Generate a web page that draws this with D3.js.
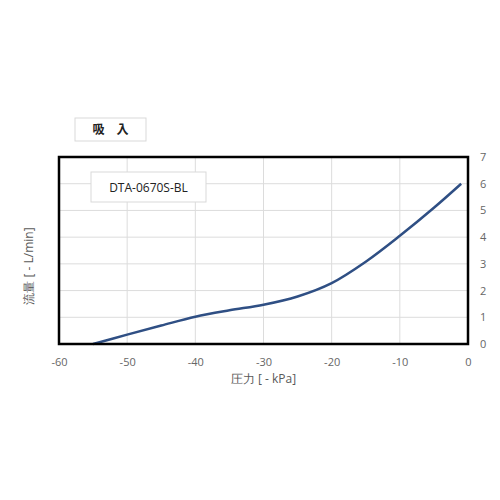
<!DOCTYPE html>
<html>
<head>
<meta charset="utf-8">
<script src="https://cdn.jsdelivr.net/npm/d3@7"></script>
<style>
  body { margin: 0; background: #fff; }
  svg text { font-family: "Open Sans", "Liberation Sans", sans-serif; }
</style>
</head>
<body>
<div id="graf"></div>
<script>
// Datos
const presion = [-55, -50, -45, -40, -35, -30, -25, -20, -15, -10, -5, -1]
const caudal = [0, 0.35, 0.69, 1.02, 1.26, 1.47, 1.78, 2.28, 3.08, 4.05, 5.1, 6.0]
const ticksX = [-60, -50, -40, -30, -20, -10, 0]
const ticksY = [0, 1, 2, 3, 4, 5, 6, 7]
const titulo = "吸　入"
const serie = "DTA-0670S-BL"
const etiquetaX = "圧力 [ - kPa]"
const etiquetaY = "流量 [ - L/min]"

const draw = () => {
  const svg = d3.select("#graf")
    .append("svg")
    .attr("width", 500)
    .attr("height", 500)

  const margen = { left: 59, right: 468, top: 157, bottom: 344 }

  const x = d3.scaleLinear().domain([-60, 0]).range([margen.left, margen.right])
  const y = d3.scaleLinear().domain([0, 7]).range([margen.bottom, margen.top])

  // Rejilla
  svg.append("g")
    .selectAll("line")
    .data(ticksY.slice(1, -1))
    .join("line")
    .attr("x1", margen.left)
    .attr("x2", margen.right)
    .attr("y1", (d) => y(d))
    .attr("y2", (d) => y(d))
    .attr("stroke", "#dcdcdc")

  svg.append("g")
    .selectAll("line")
    .data(ticksX.slice(1, -1))
    .join("line")
    .attr("x1", (d) => x(d))
    .attr("x2", (d) => x(d))
    .attr("y1", margen.top)
    .attr("y2", margen.bottom)
    .attr("stroke", "#dcdcdc")

  // Curva
  const linea = d3.line()
    .x((d, i) => x(presion[i]))
    .y((d) => y(d))
    .curve(d3.curveCatmullRom.alpha(0.5))

  svg.append("path")
    .datum(caudal)
    .attr("d", linea)
    .attr("fill", "none")
    .attr("stroke", "#2f4f84")
    .attr("stroke-width", 2.5)

  // Marco
  svg.append("rect")
    .attr("x", margen.left)
    .attr("y", margen.top)
    .attr("width", margen.right - margen.left)
    .attr("height", margen.bottom - margen.top)
    .attr("fill", "none")
    .attr("stroke", "#000")
    .attr("stroke-width", 2.5)

  // Ejes
  const ejeX = d3.axisBottom(x).tickValues(ticksX).tickFormat((d) => String(d)).tickSize(0).tickPadding(14)
  svg.append("g")
    .attr("transform", `translate(0, ${margen.bottom})`)
    .call(ejeX)
    .call((g) => g.select(".domain").remove())
    .call((g) => g.selectAll("text").attr("fill", "#666").style("font-size", "11px"))

  const ejeY = d3.axisRight(y).tickValues(ticksY).tickFormat((d) => String(d)).tickSize(0).tickPadding(12)
  svg.append("g")
    .attr("transform", `translate(${margen.right}, 0)`)
    .call(ejeY)
    .call((g) => g.select(".domain").remove())
    .call((g) => g.selectAll("text").attr("fill", "#666").style("font-size", "11px"))

  svg.append("text")
    .attr("x", (margen.left + margen.right) / 2)
    .attr("y", 383)
    .attr("text-anchor", "middle")
    .attr("fill", "#595959")
    .style("font-size", "12px")
    .text(etiquetaX)

  svg.append("text")
    .attr("transform", "translate(33, 266) rotate(-90)")
    .attr("text-anchor", "middle")
    .attr("fill", "#595959")
    .style("font-size", "12px")
    .text(etiquetaY)

  // Titulo
  svg.append("rect")
    .attr("x", 75).attr("y", 118)
    .attr("width", 71).attr("height", 23)
    .attr("fill", "#fff")
    .attr("stroke", "#d9d9d9")
  svg.append("text")
    .attr("x", 110.5).attr("y", 134)
    .attr("text-anchor", "middle")
    .attr("font-weight", "bold")
    .style("font-family", "'Noto Sans CJK JP', sans-serif")
    .style("font-size", "12px")
    .attr("fill", "#222")
    .text(titulo)

  // Leyenda
  svg.append("rect")
    .attr("x", 91).attr("y", 172)
    .attr("width", 115).attr("height", 30)
    .attr("fill", "#fff")
    .attr("stroke", "#d9d9d9")
  svg.append("text")
    .attr("x", 148.5).attr("y", 191.5)
    .attr("text-anchor", "middle")
    .style("font-size", "12px")
    .attr("fill", "#222")
    .text(serie)
}

draw()
</script>
</body>
</html>
